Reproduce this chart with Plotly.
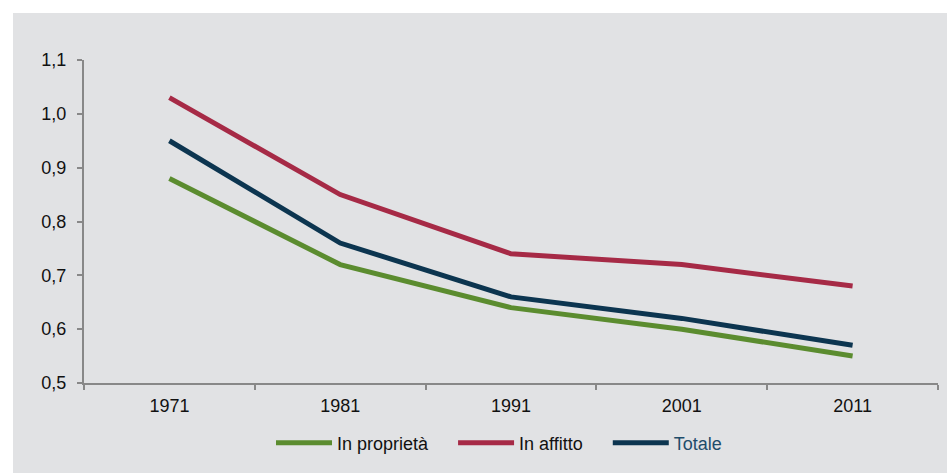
import plotly.graph_objects as go

# Census years and the three series
anni = ["1971", "1981", "1991", "2001", "2011"]
in_proprieta = [0.88, 0.72, 0.64, 0.60, 0.55]
in_affitto = [1.03, 0.85, 0.74, 0.72, 0.68]
totale = [0.95, 0.76, 0.66, 0.62, 0.57]

pad = "&nbsp;" * 4
serie = [
    ("In proprietà" + pad, in_proprieta, "#5b8c2f"),
    ("In affitto" + pad, in_affitto, "#a62a46"),
    ("<span style='color:#1f4d6b'>Totale</span>", totale, "#0c3550"),
]

W, H = 947, 473
ML, MR, MT, MB = 84, 9, 60, 90
pw, ph = W - ML - MR, H - MT - MB

fig = go.Figure()
for nome, valori, colore in serie:
    fig.add_trace(go.Scatter(
        x=anni, y=valori, name=nome, mode="lines",
        line=dict(color=colore, width=5),
    ))

axis_col = "#888888"
font = dict(family="Liberation Sans, Arial, sans-serif", size=18, color="#111111")

# Grey panel behind the chart, leaving a thin white band on top and left
fig.add_shape(
    type="rect", xref="paper", yref="paper", layer="below",
    x0=(13 - ML) / pw, x1=1 + MR / pw + 0.01,
    y0=-MB / ph - 0.01, y1=1 + (MT - 13) / ph,
    fillcolor="#e1e2e4", line=dict(width=0),
)

fig.update_layout(
    width=W, height=H,
    margin=dict(l=ML, r=MR, t=MT, b=MB),
    paper_bgcolor="white",
    plot_bgcolor="rgba(0,0,0,0)",
    separators=",.",
    font=font,
    showlegend=True,
    legend=dict(
        orientation="h", x=0.5 - 12 / pw, xanchor="center",
        y=(383 - 443) / ph, yanchor="middle",
        bgcolor="rgba(0,0,0,0)", font=font, itemwidth=56,
        traceorder="normal",
    ),
    xaxis=dict(
        type="category", range=[-0.5, 4.5],
        showline=True, linecolor=axis_col, linewidth=2,
        ticks="outside", tickson="boundaries", ticklen=5,
        tickcolor=axis_col, tickwidth=1.5,
        showgrid=False, zeroline=False, ticklabelstandoff=5,
    ),
    yaxis=dict(
        range=[0.5, 1.1], dtick=0.1, tickformat=".1f",
        showline=True, linecolor=axis_col, linewidth=2,
        ticks="outside", ticklen=5, tickcolor=axis_col, tickwidth=1.5,
        showgrid=False, zeroline=False, ticklabelstandoff=7,
    ),
)

fig.write_html("out.html")
